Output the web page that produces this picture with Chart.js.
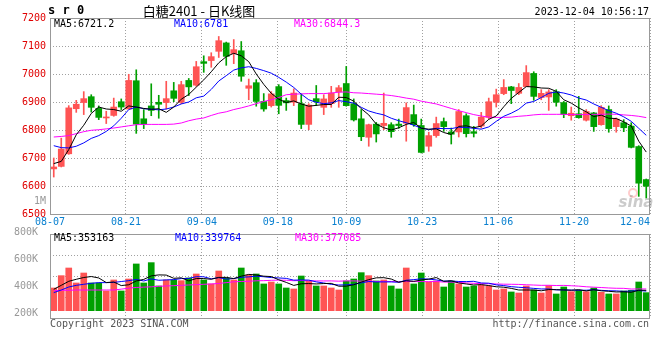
<!DOCTYPE html>
<html>
<head>
<meta charset="utf-8">
<script src="https://cdn.jsdelivr.net/npm/chart.js@4.4.1/dist/chart.umd.min.js"></script>
<style>
  html, body { margin: 0; padding: 0; background: #fff; }
  #wrap { position: relative; width: 660px; height: 360px; }
  #wrap canvas { position: absolute; left: 0; top: 0; }
</style>
</head>
<body>
<div id="wrap">
  <canvas id="kChart" width="660" height="360"></canvas>
  <canvas id="volChart" width="660" height="360"></canvas>
</div>
<script>
const dates = [
  '08-07','08-08','08-09','08-10','08-11','08-14','08-15','08-16','08-17','08-18',
  '08-21','08-22','08-23','08-24','08-25','08-28','08-29','08-30','08-31','09-01',
  '09-04','09-05','09-06','09-07','09-08','09-11','09-12','09-13','09-14','09-15',
  '09-18','09-19','09-20','09-21','09-22','09-25','09-26','09-27','09-28','10-09',
  '10-10','10-11','10-12','10-13','10-16','10-17','10-18','10-19','10-20','10-23',
  '10-24','10-25','10-26','10-27','10-30','10-31','11-01','11-02','11-03','11-06',
  '11-07','11-08','11-09','11-10','11-13','11-14','11-15','11-16','11-17','11-20',
  '11-21','11-22','11-23','11-24','11-27','11-28','11-29','11-30','12-01','12-04'
];

const open = [
  6661, 6670, 6715, 6876, 6898, 6919, 6877, 6843, 6852, 6901,
  6875, 6976, 6840, 6886, 6899, 6898, 6940, 6899, 6977, 6960,
  7044, 7048, 7081, 7111, 7073, 7083, 6949, 6969, 6902, 6887,
  6955, 6905, 6899, 6894, 6820, 6912, 6881, 6894, 6936, 6966,
  6894, 6840, 6774, 6821, 6816, 6819, 6821, 6824, 6855, 6816,
  6742, 6780, 6830, 6793, 6793, 6851, 6794, 6814, 6845, 6899,
  6930, 6954, 6931, 6955, 7002, 6916, 6918, 6937, 6898, 6851,
  6858, 6835, 6861, 6819, 6873, 6812, 6826, 6814, 6741, 6623
];
const high = [
  6700, 6771, 6887, 6906, 6937, 6926, 6886, 6867, 6914, 6911,
  6999, 7015, 6873, 6965, 6924, 6974, 6970, 6974, 6984, 7045,
  7065, 7076, 7134, 7114, 7123, 7116, 6982, 6980, 6930, 6937,
  6962, 6914, 6947, 6929, 6894, 6959, 6926, 6956, 6959, 7027,
  6911, 6873, 6821, 6827, 6932, 6826, 6839, 6897, 6889, 6839,
  6792, 6846, 6843, 6807, 6873, 6858, 6813, 6863, 6914, 6946,
  6980, 6956, 6966, 7030, 7008, 6944, 6944, 6944, 6902, 6882,
  6920, 6873, 6863, 6887, 6886, 6843, 6837, 6826, 6744, 6625
];
const low = [
  6632, 6668, 6713, 6863, 6855, 6864, 6837, 6823, 6849, 6873,
  6875, 6788, 6805, 6851, 6842, 6875, 6901, 6894, 6923, 6956,
  7006, 7024, 7059, 7031, 7037, 6974, 6908, 6885, 6867, 6882,
  6858, 6870, 6887, 6805, 6801, 6887, 6855, 6881, 6881, 6885,
  6832, 6762, 6742, 6757, 6801, 6774, 6806, 6760, 6813, 6718,
  6724, 6774, 6795, 6750, 6775, 6775, 6775, 6807, 6839, 6882,
  6926, 6894, 6926, 6955, 6906, 6908, 6870, 6885, 6844, 6835,
  6842, 6832, 6795, 6817, 6792, 6792, 6794, 6736, 6563, 6557
];
const close = [
  6668, 6732, 6879, 6892, 6912, 6881, 6845, 6846, 6882, 6882,
  6977, 6821, 6821, 6870, 6892, 6912, 6913, 6962, 6954, 7026,
  7038, 7062, 7119, 7063, 7087, 6992, 6958, 6902, 6875, 6929,
  6888, 6897, 6932, 6820, 6889, 6901, 6911, 6932, 6951, 6887,
  6836, 6776, 6819, 6786, 6824, 6794, 6816, 6880, 6819, 6720,
  6780, 6823, 6812, 6785, 6866, 6787, 6788, 6846, 6901, 6926,
  6952, 6941, 6952, 7005, 6920, 6931, 6936, 6899, 6856, 6860,
  6844, 6866, 6812, 6881, 6805, 6839, 6808, 6738, 6610, 6599
];

const ma5 = [
  6680, 6688, 6730, 6783, 6817, 6859, 6882, 6875, 6873, 6867,
  6886, 6882, 6877, 6874, 6876, 6863, 6882, 6910, 6927, 6953,
  6979, 7008, 7040, 7062, 7074, 7065, 7044, 7000, 6963, 6931,
  6910, 6898, 6904, 6893, 6885, 6888, 6891, 6891, 6917, 6916,
  6903, 6876, 6854, 6821, 6808, 6800, 6808, 6820, 6827, 6806,
  6803, 6804, 6791, 6784, 6813, 6815, 6808, 6814, 6838, 6850,
  6883, 6913, 6934, 6955, 6954, 6950, 6949, 6938, 6908, 6896,
  6879, 6865, 6848, 6853, 6842, 6841, 6829, 6814, 6760, 6721.2
];
const ma10 = [
  6744, 6737, 6736, 6742, 6754, 6770, 6780, 6795, 6815, 6842,
  6873, 6882, 6876, 6874, 6872, 6875, 6882, 6893, 6900, 6915,
  6921, 6945, 6975, 6994, 7014, 7022, 7026, 7020, 7012, 7003,
  6988, 6971, 6952, 6928, 6908, 6899, 6894, 6897, 6905, 6901,
  6896, 6881, 6868, 6860, 6854, 6842, 6833, 6826, 6817, 6807,
  6801, 6806, 6805, 6805, 6810, 6809, 6806, 6803, 6811, 6831,
  6849, 6860, 6874, 6896, 6902, 6916, 6931, 6936, 6932, 6925,
  6914, 6907, 6893, 6881, 6869, 6860, 6847, 6831, 6806, 6781
];
const ma30 = [
  6775, 6777, 6780, 6787, 6794, 6799, 6801, 6804, 6807, 6811,
  6815, 6819, 6820, 6820, 6820, 6820, 6821, 6825, 6833, 6839,
  6843, 6852, 6860, 6865, 6873, 6879, 6886, 6894, 6902, 6908,
  6916, 6926, 6928, 6929, 6930, 6930, 6930, 6932, 6935, 6936,
  6933, 6932, 6930, 6928, 6926, 6923, 6919, 6914, 6910, 6903,
  6898, 6893, 6885, 6877, 6869, 6862, 6855, 6850, 6846, 6845,
  6845, 6846, 6849, 6851, 6854, 6856, 6856, 6856, 6856, 6855,
  6855, 6855, 6856, 6856, 6857, 6856, 6854, 6852, 6849, 6844.3
];

// volume in thousands of lots
const volume = [
  394, 608, 741, 481, 654, 481, 481, 342, 533, 342,
  550, 811, 481, 834, 429, 533, 533, 521, 568, 637,
  533, 464, 689, 568, 533, 741, 620, 637, 464, 498,
  464, 394, 377, 602, 516, 429, 429, 394, 359, 516,
  550, 660, 608, 516, 533, 429, 377, 741, 464, 654,
  498, 516, 411, 516, 464, 411, 429, 446, 429, 359,
  377, 325, 307, 429, 359, 307, 435, 290, 411, 330,
  354, 330, 394, 319, 290, 290, 342, 354, 498, 313
];
const volMa5 = [
  371, 440, 510, 545, 576, 593, 568, 488, 498, 436,
  450, 516, 543, 604, 621, 618, 562, 570, 517, 558,
  558, 545, 578, 578, 557, 599, 630, 620, 599, 592,
  537, 491, 439, 467, 471, 464, 471, 474, 425, 425,
  450, 496, 539, 570, 573, 549, 493, 519, 509, 533,
  547, 575, 509, 519, 481, 464, 446, 453, 436, 415,
  408, 387, 359, 359, 359, 345, 367, 364, 360, 355,
  364, 343, 364, 345, 337, 325, 327, 319, 355, 353.2
];
const volMa10 = [
  313, 359, 411, 440, 458, 475, 487, 487, 490, 506,
  521, 542, 516, 551, 528, 534, 539, 557, 560, 590,
  588, 553, 574, 548, 558, 579, 587, 599, 589, 575,
  568, 561, 530, 533, 531, 500, 481, 457, 446, 448,
  457, 483, 506, 498, 499, 499, 494, 529, 539, 553,
  548, 534, 514, 514, 507, 505, 510, 481, 477, 448,
  436, 417, 406, 398, 387, 377, 377, 362, 360, 357,
  355, 355, 364, 353, 346, 344, 335, 341, 350, 339.8
];
const volMa30 = [
  348, 354, 354, 359, 359, 359, 359, 359, 359, 374,
  391, 403, 409, 414, 423, 429, 434, 440, 446, 452,
  458, 464, 472, 487, 501, 507, 510, 519, 521, 527,
  530, 528, 520, 524, 519, 517, 516, 517, 512, 517,
  517, 512, 517, 506, 509, 506, 501, 508, 505, 505,
  504, 506, 497, 495, 493, 482, 475, 469, 468, 463,
  460, 458, 456, 450, 445, 440, 441, 437, 439, 433,
  426, 415, 408, 402, 394, 389, 388, 376, 377, 377.1
];

const dateTicks = ['08-07', '08-21', '09-04', '09-18', '10-09', '10-23', '11-06', '11-20', '12-04'];
const volLabelTicks = [200, 400, 600, 800];

const RED = '#ff5454';
const GREEN = '#00a000';
const GRID = '#a0a0a0';
const MONO = '"DejaVu Sans Mono", "Liberation Mono", monospace';

Chart.defaults.font.family = MONO;
Chart.defaults.font.size = 10;

const N = dates.length;
const up = close.map((c, i) => c >= open[i]);
const colors = up.map(u => u ? RED : GREEN);
const tickIdx = dateTicks.map(d => dates.indexOf(d));

function setTicks(values) {
  return scale => { scale.ticks = values.map(v => ({ value: v })); };
}

function text(ctx, str, x, y, color, font, align) {
  ctx.fillStyle = color;
  ctx.font = font;
  ctx.textAlign = align || 'left';
  ctx.textBaseline = 'middle';
  ctx.fillText(str, x, y);
}

function frame(ctx, a) {
  ctx.strokeStyle = '#999';
  ctx.lineWidth = 1;
  ctx.strokeRect(a.left + 0.5, a.top + 0.5, a.right - a.left - 1, a.bottom - a.top);
}

function line(label, data, color) {
  return {
    type: 'line', label, data: data.map((v, i) => ({ x: i, y: v })),
    borderColor: color, borderWidth: 1, pointRadius: 0, tension: 0, order: 1
  };
}

const kText = {
  id: 'kText',
  afterDraw(chart) {
    const { ctx, chartArea } = chart;
    ctx.save();
    frame(ctx, chartArea);
    text(ctx, 's r 0', 48, 11, '#000', 'bold 12px ' + MONO);
    text(ctx, '白糖2401 - 日K线图', 199, 11, '#000', '13px "Noto Sans CJK SC"', 'center');
    text(ctx, '2023-12-04 10:56:17', 649, 12, '#000', '10px ' + MONO, 'right');
    text(ctx, 'MA5:6721.2', 54, 24, '#000', '10px ' + MONO);
    text(ctx, 'MA10:6781', 174, 24, '#0000ff', '10px ' + MONO);
    text(ctx, 'MA30:6844.3', 294, 24, '#ff00ff', '10px ' + MONO);
    text(ctx, '1M', 46, 201, '#999', '10px ' + MONO, 'right');
    // sina watermark
    ctx.strokeStyle = 'rgba(255,110,110,0.35)';
    ctx.lineWidth = 2;
    ctx.beginPath();
    ctx.arc(633, 193, 4, 0, Math.PI * 2);
    ctx.stroke();
    text(ctx, 'sina', 636, 203, 'rgba(140,140,140,0.45)', 'italic bold 15px "DejaVu Sans"', 'center');
    ctx.restore();
  }
};

const volText = {
  id: 'volText',
  afterDraw(chart) {
    const { ctx, chartArea } = chart;
    ctx.save();
    frame(ctx, chartArea);
    text(ctx, 'MA5:353163', 54, 238, '#000', '10px ' + MONO);
    text(ctx, 'MA10:339764', 175, 238, '#0000ff', '10px ' + MONO);
    text(ctx, 'MA30:377085', 295, 238, '#ff00ff', '10px ' + MONO);
    text(ctx, 'Copyright 2023 SINA.COM', 50, 324, '#555', '10px ' + MONO);
    text(ctx, 'http://finance.sina.com.cn', 649, 324, '#555', '10px ' + MONO, 'right');
    ctx.restore();
  }
};

const gridOpts = { color: GRID, drawTicks: false };
const dashBorder = { display: false, dash: [1, 2] };

function renderKChart() {
  const data = {
    datasets: [
      {
        type: 'bar', label: 'wick',
        data: close.map((c, i) => ({ x: i, y: [low[i], high[i]] })),
        backgroundColor: colors, barThickness: 1, grouped: false, order: 3
      },
      {
        type: 'bar', label: 'body',
        data: close.map((c, i) => ({ x: i, y: [open[i], c] })),
        backgroundColor: colors, barThickness: 6, minBarLength: 1, grouped: false, order: 2
      },
      line('MA5', ma5, '#000000'),
      line('MA10', ma10, '#0000ff'),
      line('MA30', ma30, '#ff00ff')
    ]
  };

  // first tick is a blank twin of 08-07 so that "inner" keeps 08-07 centred
  // and pushes only the last label (12-04) inside the frame
  const xTicks = [tickIdx[0]].concat(tickIdx);

  const options = {
    responsive: false,
    animation: false,
    events: [],
    layout: { padding: { top: 18, right: 10, bottom: 130, left: 0 } },
    plugins: { legend: { display: false }, tooltip: { enabled: false } },
    scales: {
      x: { type: 'linear', min: -0.5, max: N - 0.5, offset: false, display: false },
      xg: {
        type: 'linear', position: 'bottom', min: 0, max: N - 1, offset: false,
        afterBuildTicks: setTicks(xTicks),
        afterFit: s => { s.height = 16; },
        grid: gridOpts, border: dashBorder,
        ticks: {
          autoSkip: false, maxRotation: 0, padding: 2, align: 'inner', color: '#0a80d0',
          callback: (v, i) => i === 0 ? '' : dates[v]
        }
      },
      y: {
        min: 6500, max: 7200,
        afterFit: s => { s.width = 50; },
        grid: gridOpts, border: dashBorder,
        ticks: { stepSize: 100, padding: 4, color: '#e00000', callback: v => String(v) }
      }
    }
  };

  new Chart('kChart', { data, options, plugins: [kText] });
}

function renderVolChart() {
  const data = {
    datasets: [
      {
        type: 'bar', label: 'volume',
        data: volume.map((v, i) => ({ x: i, y: v })),
        backgroundColor: colors, barThickness: 6, grouped: false, order: 2
      },
      line('MA5', volMa5, '#000000'),
      line('MA10', volMa10, '#0000ff'),
      line('MA30', volMa30, '#ff00ff')
    ]
  };

  const options = {
    responsive: false,
    animation: false,
    events: [],
    layout: { padding: { top: 234, right: 10, bottom: 42, left: 0 } },
    plugins: { legend: { display: false }, tooltip: { enabled: false } },
    scales: {
      x: { type: 'linear', min: -0.5, max: N - 0.5, offset: false, display: false },
      xg: {
        type: 'linear', position: 'bottom', min: 0, max: N - 1, offset: false,
        afterBuildTicks: setTicks(tickIdx),
        afterFit: s => { s.height = 0; },
        grid: gridOpts, border: dashBorder,
        ticks: { display: false }
      },
      y: {
        min: -127, max: 1331, weight: 0,
        afterBuildTicks: s => {
          const step = (s.max - s.min) / 4;
          s.ticks = [1, 2, 3].map(k => ({ value: s.min + k * step }));
        },
        afterFit: s => { s.width = 0; },
        grid: gridOpts, border: dashBorder,
        ticks: { display: false }
      },
      yl: {
        type: 'linear', position: 'left', min: 167.6, max: 785.3, weight: 1,
        afterBuildTicks: setTicks(volLabelTicks),
        afterFit: s => { s.width = 50; },
        grid: { display: false }, border: { display: false },
        ticks: { padding: 4, color: '#999', callback: v => v + 'K' }
      }
    }
  };

  new Chart('volChart', { data, options, plugins: [volText] });
}

renderKChart();
renderVolChart();
</script>
</body>
</html>
